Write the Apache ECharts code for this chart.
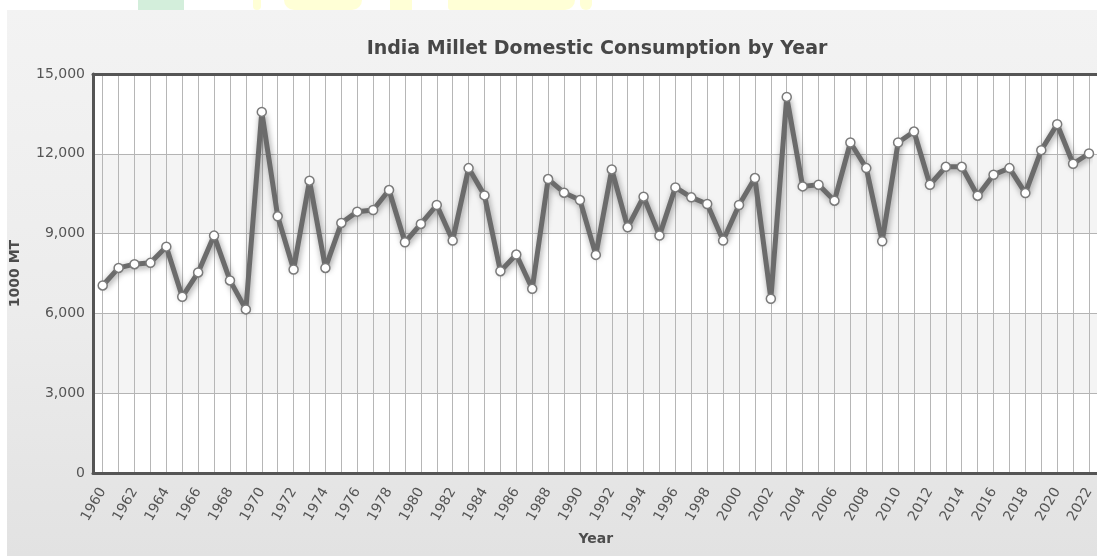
<!DOCTYPE html>
<html>
<head>
<meta charset="utf-8">
<script src="https://cdn.jsdelivr.net/npm/echarts@6/dist/echarts.min.js"></script>
<style>
  html, body { margin: 0; padding: 0; background: #ffffff; width: 1097px; height: 556px; overflow: hidden; }
  #panel { position: absolute; left: 7px; top: 10px; right: 0; bottom: 0;
           background: linear-gradient(to bottom, #f3f3f3 0%, #ececec 55%, #e2e2e2 100%); }
  .wm { position: absolute; top: 0; height: 10px; }
  #chart { position: absolute; left: 0; top: 0; width: 1097px; height: 556px; }
</style>
</head>
<body>
<div class="wm" style="left:138px;width:46px;background:#d3eedb;"></div>
<div class="wm" style="left:253px;width:8px;background:#ffffd6;border-radius:0 0 4px 4px;"></div>
<div class="wm" style="left:284px;width:78px;background:#ffffd6;border-radius:0 0 20px 20px;"></div>
<div class="wm" style="left:390px;width:22px;background:#ffffd6;"></div>
<div class="wm" style="left:448px;width:127px;background:#ffffd6;border-radius:0 0 30px 10px;"></div>
<div class="wm" style="left:580px;width:12px;background:#ffffd6;border-radius:0 0 6px 6px;"></div>
<div id="panel"></div>
<div id="chart"></div>
<script>
const years = ['1960','1961','1962','1963','1964','1965','1966','1967','1968','1969',
  '1970','1971','1972','1973','1974','1975','1976','1977','1978','1979',
  '1980','1981','1982','1983','1984','1985','1986','1987','1988','1989',
  '1990','1991','1992','1993','1994','1995','1996','1997','1998','1999',
  '2000','2001','2002','2003','2004','2005','2006','2007','2008','2009',
  '2010','2011','2012','2013','2014','2015','2016','2017','2018','2019',
  '2020','2021','2022'];
const consumption = [7050, 7710, 7850, 7900, 8510, 6625, 7540, 8925, 7240, 6150,
  13575, 9650, 7650, 10990, 7710, 9400, 9825, 9887, 10637, 8675,
  9362, 10075, 8737, 11462, 10437, 7587, 8212, 6925, 11050, 10537,
  10262, 8200, 11412, 9237, 10387, 8925, 10737, 10362, 10112, 8737,
  10075, 11087, 6550, 14137, 10775, 10837, 10237, 12425, 11462, 8712,
  12425, 12837, 10837, 11512, 11512, 10425, 11212, 11462, 10525, 12137,
  13112, 11625, 12012];
const yTicks = [0, 3000, 6000, 9000, 12000, 15000];
const titleText = 'India Millet Domestic Consumption by Year';
const yName = '1000 MT';
const xName = 'Year';

const FONT = '"DejaVu Sans", Verdana, sans-serif';
const chart = echarts.init(document.getElementById('chart'), null, { renderer: 'canvas' });
const fmt = v => v.toLocaleString('en-US');
const frameLine = { show: true, onZero: false, lineStyle: { color: '#555555', width: 3 } };

chart.setOption({
  backgroundColor: 'transparent',
  animation: false,
  title: {
    text: titleText,
    left: 592, textAlign: 'center', top: 35,
    textStyle: { fontFamily: FONT, fontSize: 19, fontWeight: 'bold', color: '#474747' }
  },
  grid: [
    { left: 93, right: -4, top: 74, bottom: 83, show: true, backgroundColor: '#ffffff',
      borderWidth: 0, containLabel: false, outerBoundsMode: 'none' },
    { left: 102.7, right: 8, top: 74, bottom: 83, containLabel: false, outerBoundsMode: 'none' }
  ],
  xAxis: [
    { gridIndex: 0, type: 'category', data: years, position: 'bottom',
      axisLine: frameLine, axisTick: { show: false }, axisLabel: { show: false }, splitLine: { show: false }, z: 10 },
    { gridIndex: 0, type: 'category', data: years, position: 'top',
      axisLine: frameLine, axisTick: { show: false }, axisLabel: { show: false }, splitLine: { show: false }, z: 10 },
    { gridIndex: 1, type: 'category', data: years, boundaryGap: false,
      axisLine: { show: false }, axisTick: { show: false },
      axisLabel: { interval: 1, rotate: 60, margin: 16, fontFamily: FONT, fontSize: 14, color: '#555555' },
      splitLine: { show: true, interval: 0, lineStyle: { color: '#b6b6b6', width: 1 } },
      name: xName, nameLocation: 'middle', nameGap: 59,
      nameTextStyle: { fontFamily: FONT, fontSize: 14, fontWeight: 'bold', color: '#4d4d4d' } }
  ],
  yAxis: [
    { gridIndex: 0, type: 'value', min: yTicks[0], max: yTicks[yTicks.length - 1], interval: yTicks[1] - yTicks[0],
      axisLine: frameLine, axisTick: { show: false },
      axisLabel: { formatter: fmt, margin: 8, fontFamily: FONT, fontSize: 14, color: '#555555' },
      splitLine: { show: true, lineStyle: { color: '#b4b4b4', width: 1 } },
      splitArea: { show: true, areaStyle: { color: ['#ffffff', '#f4f4f4'] } },
      name: yName, nameLocation: 'middle', nameGap: 71, nameRotate: 90,
      nameTextStyle: { fontFamily: FONT, fontSize: 14, fontWeight: 'bold', color: '#4d4d4d' } },
    { gridIndex: 1, type: 'value', min: yTicks[0], max: yTicks[yTicks.length - 1], interval: yTicks[1] - yTicks[0],
      show: false, splitLine: { show: false } }
  ],
  series: [{
    type: 'line', xAxisIndex: 2, yAxisIndex: 1, data: consumption,
    symbol: 'circle', symbolSize: 9, showSymbol: true,
    lineStyle: { color: '#6b6b6b', width: 5, shadowColor: 'rgba(0,0,0,0.4)', shadowBlur: 6, shadowOffsetX: 1, shadowOffsetY: 2 },
    itemStyle: { color: '#ffffff', borderColor: '#7a7a7a', borderWidth: 1.5 },
    z: 5
  }]
});
</script>
</body>
</html>
